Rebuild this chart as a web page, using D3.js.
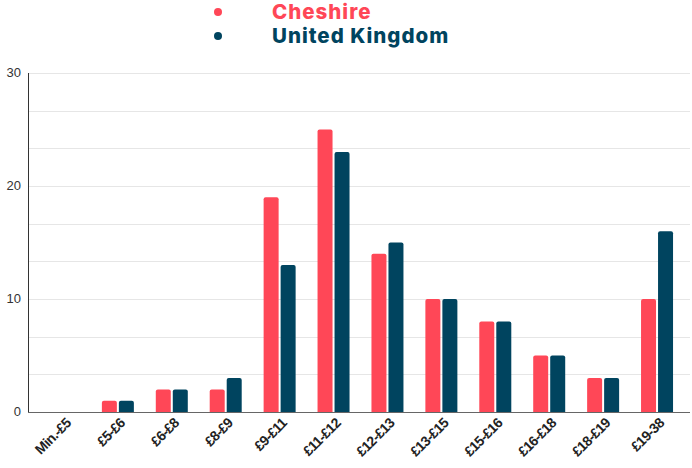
<!DOCTYPE html>
<html><head><meta charset="utf-8">
<script src="https://cdn.jsdelivr.net/npm/d3@7"></script>
<style>body{margin:0;background:#fff}</style>
</head><body>
<svg id="c" width="692" height="468"></svg>
<script>
const categories = ["Min.-£5","£5-£6","£6-£8","£8-£9","£9-£11","£11-£12","£12-£13","£13-£15","£15-£16","£16-£18","£18-£19","£19-38"];
const cheshire = [0,1,2,2,19,25,14,10,8,5,3,10];
const uk = [0,1,2,3,13,23,15,10,8,5,3,16];
const seriesNames = ["Cheshire","United Kingdom"];
const colors = ["#ff4757","#00445f"];
const yTicks = [0,10,20,30];
const gridTicks = [0,10/3,20/3,10,40/3,50/3,20,70/3,80/3,30];

const svg = d3.select("#c");
const pLeft = 28, pRight = 690, pTop = 73, pBottom = 412;
const x = d3.scaleBand().domain(categories).range([37, 684]).paddingInner(0).paddingOuter(0);
const y = d3.scaleLinear().domain([0,30]).range([pBottom, pTop]);
const barW = 15, gap = 2;

svg.append("g").selectAll("line").data(gridTicks.slice(1)).join("line")
  .attr("x1", pLeft).attr("x2", pRight)
  .attr("y1", d => Math.round(y(d))+0.5).attr("y2", d => Math.round(y(d))+0.5)
  .attr("stroke", "#e6e6e6").attr("stroke-width", 1);

const series = [cheshire, uk];
function barPath(x0, y0, w, h, r) {
  if (h <= 0) return "";
  r = Math.min(r, h, w/2);
  return `M${x0},${y0+h}V${y0+r}Q${x0},${y0} ${x0+r},${y0}H${x0+w-r}Q${x0+w},${y0} ${x0+w},${y0+r}V${y0+h}Z`;
}
series.forEach((vals, si) => {
  svg.append("g").selectAll("path").data(vals).join("path")
    .attr("d", (v, i) => {
      const cx = x(categories[i]) + x.bandwidth()/2;
      const x0 = si === 0 ? cx - gap/2 - barW : cx + gap/2;
      return barPath(x0, y(v), barW, y(0) - y(v), 2);
    })
    .attr("fill", colors[si]);
});

svg.append("line").attr("x1", pLeft+0.5).attr("x2", pLeft+0.5).attr("y1", pTop).attr("y2", pBottom)
  .attr("stroke", "#333").attr("stroke-width", 1);
svg.append("line").attr("x1", pLeft).attr("x2", pRight).attr("y1", pBottom+0.5).attr("y2", pBottom+0.5)
  .attr("stroke", "#666").attr("stroke-width", 1.2);

svg.append("g").selectAll("text").data(yTicks).join("text")
  .attr("x", 21).attr("y", d => y(d) + 4)
  .attr("text-anchor", "end")
  .attr("font-family", "Liberation Sans, Arial, sans-serif")
  .attr("font-size", 13).attr("fill", "#333")
  .text(d => d);

svg.append("g").selectAll("text").data(categories).join("text")
  .attr("transform", d => `translate(${x(d) + x.bandwidth()/2 + 8},${pBottom + 12}) rotate(-45)`)
  .attr("text-anchor", "end")
  .attr("font-family", "Liberation Sans, Arial, sans-serif")
  .attr("font-weight", "bold")
  .attr("font-size", 14).attr("letter-spacing", -0.6).attr("fill", "#222")
  .text(d => d);

const lg = svg.append("g");
seriesNames.forEach((n, i) => {
  lg.append("circle").attr("cx", 218).attr("cy", 12 + i*24).attr("r", 4).attr("fill", colors[i]);
  lg.append("text").attr("x", 272).attr("y", 19 + i*24)
    .attr("font-family", "Inter, Lato, sans-serif").attr("font-weight", 800)
    .attr("font-size", 20.5).attr("letter-spacing", 1).attr("fill", colors[i]).text(n);
});
</script>
</body></html>
